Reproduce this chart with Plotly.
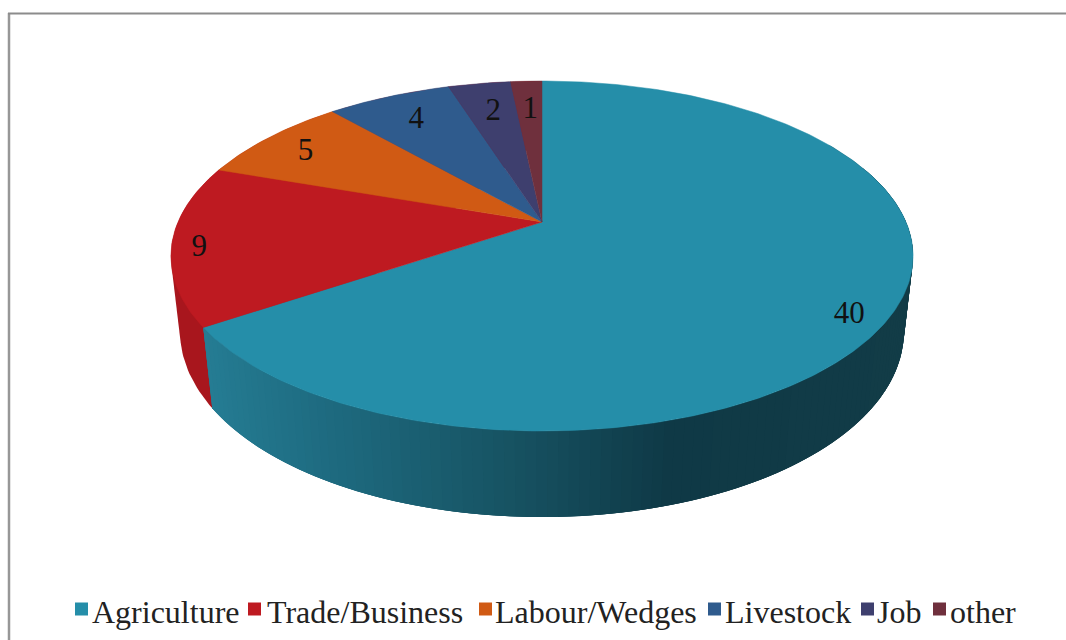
import math
import plotly.graph_objects as go

# ---- data ----
categories = ["Agriculture", "Trade/Business", "Labour/Wedges", "Livestock", "Job", "other"]
values = [40, 9, 5, 4, 2, 1]
labels = ["40", "9", "5", "4", "2", "1"]

# ---- style ----
colors = ["#258EA9", "#BE1A21", "#D05A14", "#2F5B8D", "#3E3F6E", "#6F303D"]
red_wall = "#A8161D"
wall_stops = [(205, (37, 124, 147)), (300, (31, 110, 132)), (500, (23, 84, 100)),
              (670, (15, 57, 70)), (920, (18, 60, 71))]
label_radius = [0.906, 0.927, 0.848, 0.804, 0.779, 0.78]
label_nudge = [4.4, -1.2, -0.6, 0.3, 0.4, 0.2]
legend_swatch_x = [81.5, 254.5, 485.5, 714.5, 867.5, 939.5]
legend_text_x = [92, 267, 495, 725, 877, 950]
FONT = "Liberation Serif"

# ---- projection of the disc (perspective) ----
CX, CY, C, A, K = 542.0, 222.0, 0.1943, -125.26, 364.0
VANISH_Y = 3369.0


def top(theta, r=1.0):
    u, v = r * math.sin(theta), r * math.cos(theta)
    w = 1 + C * v
    return CX + K * u / w, (A * v + CY) / w


def bottom(theta):
    x, y = top(theta)
    t = 0.9707 + 0.0061 * (math.cos(theta) + 1)
    return CX + t * (x - CX), VANISH_Y + t * (y - VANISH_Y)


def wall_color(x):
    c = wall_stops[0][1] if x <= wall_stops[0][0] else wall_stops[-1][1]
    for (x0, c0), (x1, c1) in zip(wall_stops, wall_stops[1:]):
        if x0 <= x <= x1:
            f = (x - x0) / (x1 - x0)
            c = tuple(round(a + f * (b - a)) for a, b in zip(c0, c1))
            break
    return "rgb(%d,%d,%d)" % tuple(c)


def hull(points):
    pts = sorted(set(points))

    def half(seq):
        out = []
        for p in seq:
            while len(out) > 1 and ((out[-1][0] - out[-2][0]) * (p[1] - out[-2][1])
                                    - (out[-1][1] - out[-2][1]) * (p[0] - out[-2][0])) <= 0:
                out.pop()
            out.append(p)
        return out[:-1]

    return half(pts) + half(pts[::-1])


total = sum(values)
edges = [0.0]
for val in values:
    edges.append(edges[-1] + val / total * 2 * math.pi)

fig = go.Figure()


def poly(pts, color, width=0.0):
    xs = [p[0] for p in pts] + [pts[0][0]]
    ys = [p[1] for p in pts] + [pts[0][1]]
    fig.add_trace(go.Scatter(x=xs, y=ys, mode="lines", fill="toself", fillcolor=color,
                             line=dict(color=color, width=width), hoverinfo="skip",
                             showlegend=False))


def arc(t0, t1, n):
    return [t0 + (t1 - t0) * i / n for i in range(n + 1)]


# side wall silhouettes (rims joined by their tangent lines)
ths = arc(edges[1], 2 * math.pi, 120)
poly(hull([top(t) for t in ths] + [bottom(t) for t in ths]), red_wall)
ths = arc(math.radians(60), math.radians(125), 60)
poly(hull([top(t) for t in ths] + [bottom(t) for t in ths]), wall_color(900))

# teal wall with a gradient: each band runs under the next, so no seams show
start, end = math.radians(70), edges[1]
n = 120
ts = arc(start, end, n)
for i in range(n):
    j = min(i + 3, n)
    span = ts[i:j + 1]
    pts = [top(t) for t in span] + [bottom(t) for t in reversed(span)]
    poly(pts, wall_color((top(ts[i])[0] + top(ts[i + 1])[0]) / 2))

# top face wedges
for i, col in enumerate(colors):
    steps = max(4, int(values[i] * 8))
    pts = [(CX, CY)] + [top(t) for t in arc(edges[i], edges[i + 1], steps)]
    poly(pts, col, width=0.5)

# data labels
for i, txt in enumerate(labels):
    mid = (edges[i] + edges[i + 1]) / 2 + math.radians(label_nudge[i])
    x, y = top(mid, label_radius[i])
    fig.add_trace(go.Scatter(x=[x], y=[y + 2.5], mode="text", text=[txt], textposition="middle center",
                             textfont=dict(family=FONT, size=31, color="#111111"),
                             hoverinfo="skip", showlegend=False))

# legend
fig.add_trace(go.Scatter(x=legend_swatch_x, y=[609] * 6, mode="markers",
                         marker=dict(symbol="square", size=13, color=colors, line=dict(width=0)),
                         hoverinfo="skip", showlegend=False))
fig.add_trace(go.Scatter(x=legend_text_x, y=[615] * 6, mode="text", text=categories,
                         textposition="middle right",
                         textfont=dict(family=FONT, size=32, color="#222222"),
                         hoverinfo="skip", showlegend=False))

fig.update_layout(
    width=1066, height=640, autosize=False,
    margin=dict(l=0, r=0, t=0, b=0),
    paper_bgcolor="white", plot_bgcolor="white",
    xaxis=dict(range=[0, 1066], visible=False, fixedrange=True),
    yaxis=dict(range=[640, 0], visible=False, fixedrange=True),
    shapes=[
        dict(type="line", x0=9, x1=9, y0=13, y1=640, line=dict(color="#979797", width=2.5)),
        dict(type="line", x0=8, x1=1066, y0=13.5, y1=13.5, line=dict(color="#8c8c8c", width=2)),
    ],
)
fig.write_html("out.html", config=dict(displayModeBar=False), post_script=
               "document.body.style.margin='0';")
